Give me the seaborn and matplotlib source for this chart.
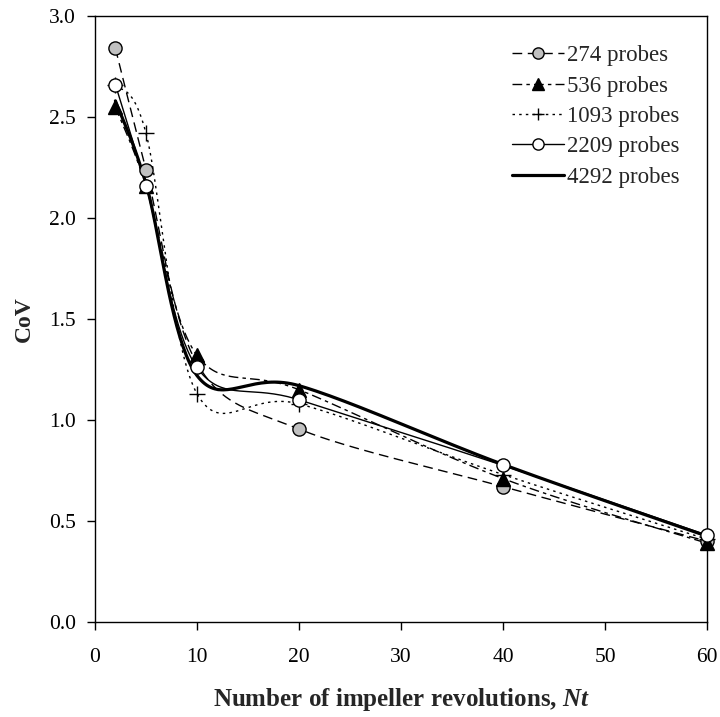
import numpy as np
import pandas as pd
import matplotlib
matplotlib.use("Agg")
import matplotlib.pyplot as plt
from matplotlib.lines import Line2D
import seaborn as sns

sns.set_theme(style="ticks")
plt.rcParams['font.family'] = 'serif'
plt.rcParams['font.serif'] = ['Liberation Serif', 'DejaVu Serif']
plt.rcParams['mathtext.fontset'] = 'custom'
plt.rcParams['mathtext.bfit'] = 'Liberation Serif:italic:bold'
plt.rcParams['mathtext.rm'] = 'Liberation Serif'

revolutions = [2, 5, 10, 20, 40, 60]
cov_274 = [2.84, 2.24, 1.28, 0.955, 0.67, 0.40]
cov_536 = [2.55, 2.16, 1.32, 1.15, 0.71, 0.39]
cov_1093 = [2.66, 2.42, 1.13, 1.08, 0.73, 0.41]
cov_2209 = [2.66, 2.16, 1.26, 1.10, 0.775, 0.43]
cov_4292 = [2.58, 2.17, 1.22, 1.17, 0.78, 0.425]
series_labels = ["274 probes", "536 probes", "1093 probes", "2209 probes", "4292 probes"]
x_ticks = [0, 10, 20, 30, 40, 50, 60]
y_ticks = [0.0, 0.5, 1.0, 1.5, 2.0, 2.5, 3.0]


def excel_smooth(xs, ys, n=40):
    """Bezier smoothing similar to spreadsheet 'smoothed line'."""
    P = np.column_stack([xs, ys]).astype(float)
    out = []
    for i in range(len(P) - 1):
        p0 = P[i - 1] if i > 0 else P[i]
        p1 = P[i]
        p2 = P[i + 1]
        p3 = P[i + 2] if i + 2 < len(P) else P[i + 1]
        c1 = p1 + (p2 - p0) / 6.0
        c2 = p2 - (p3 - p1) / 6.0
        t = np.linspace(0, 1, n)[:, None]
        seg = ((1 - t) ** 3) * p1 + 3 * ((1 - t) ** 2) * t * c1 + 3 * (1 - t) * t ** 2 * c2 + t ** 3 * p2
        out.append(seg if i == 0 else seg[1:])
    return np.vstack(out)


fig = plt.figure(figsize=(7.2, 7.17), dpi=100)
ax = fig.add_axes([95 / 720, 1 - 622 / 717, 612 / 720, 606 / 717])

series = [cov_274, cov_536, cov_1093, cov_2209, cov_4292]
styles = [
    dict(ls=(0, (7, 4)), lw=1.0, marker='o', mfc='#c0c0c0', ms=9.5),
    dict(ls=(0, (7, 3, 2.5, 3)), lw=1.0, marker='^', mfc='black', ms=9.5),
    dict(ls=(0, (1.8, 3)), lw=1.0, marker='+', mfc='black', ms=11),
    dict(ls='-', lw=1.0, marker='o', mfc='white', ms=9.5),
    dict(ls='-', lw=2.3, marker=None, mfc='black', ms=0),
]

handles = []
for vals, st, lab in zip(series, styles, series_labels):
    curve = excel_smooth(revolutions, vals)
    df = pd.DataFrame({"x": curve[:, 0], "y": curve[:, 1]})
    sns.lineplot(data=df, x="x", y="y", ax=ax, sort=False, estimator=None,
                 color='black', linewidth=st['lw'], linestyle=st['ls'], zorder=2)
    if st['marker'] is not None:
        ax.plot(revolutions, vals, linestyle='none', marker=st['marker'],
                markerfacecolor=st['mfc'], markeredgecolor='black',
                markersize=st['ms'], markeredgewidth=1.0, zorder=3, clip_on=False)
    handles.append(Line2D([0], [0], color='black', linestyle=st['ls'], linewidth=st['lw'],
                          marker=st['marker'], markerfacecolor=st['mfc'],
                          markeredgecolor='black', markersize=st['ms'] * 0.85 if st['marker'] else 0,
                          label=lab))

ax.set_xlim(0, 60)
ax.set_ylim(0, 3.0)
ax.set_xticks(x_ticks)
ax.set_xticklabels([str(v) for v in x_ticks])
ax.set_yticks(y_ticks)
ax.set_yticklabels([f"{v:.1f}" for v in y_ticks])
ax.tick_params(direction='out', length=5.5, width=1, labelsize=15.5, colors='black')
ax.tick_params(axis='x', pad=13)
ax.tick_params(axis='y', pad=8)
for s in ax.spines.values():
    s.set_visible(True)
    s.set_color('black')
    s.set_linewidth(1.0)

ax.set_xlabel(r"Number of impeller revolutions, $\mathbfit{Nt}$", fontsize=18,
              fontweight='bold', labelpad=14)
ax.set_ylabel("CoV", fontsize=17, fontweight='bold', labelpad=10)

leg = ax.legend(handles=handles, loc='upper left', frameon=False, fontsize=16.5,
                handlelength=2.3, handletextpad=0.1, labelspacing=0.41,
                borderpad=0, borderaxespad=0,
                bbox_to_anchor=(0.681, 0.952))

fig.savefig("out.png", dpi=100)
